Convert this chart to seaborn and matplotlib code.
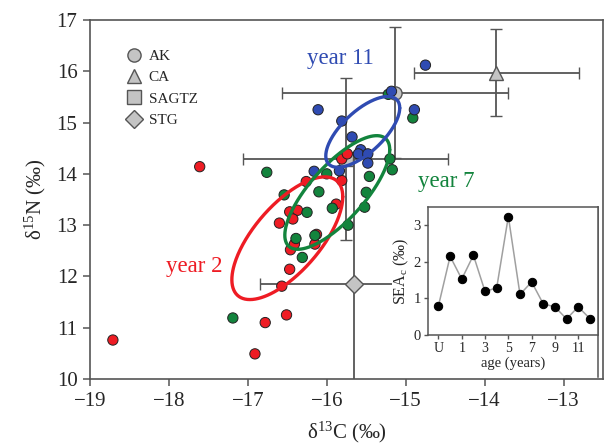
import numpy as np
import pandas as pd
import seaborn as sns
import matplotlib.pyplot as plt
from matplotlib.lines import Line2D

# isotope values per age group (d13C, d15N)
red_x = [-18.71, -17.61, -16.91, -16.78, -16.51, -16.57, -16.47, -16.46, -16.41, -16.60,
         -16.47, -16.37, -16.43, -16.26, -16.13, -16.15, -15.88, -15.81, -15.81, -15.74]
red_y = [10.76, 14.14, 10.49, 11.10, 11.25, 11.81, 12.14, 12.52, 12.63, 13.04,
         13.26, 13.29, 13.12, 13.85, 12.82, 12.63, 13.41, 13.87, 14.29, 14.39]
green_x = [-17.19, -16.76, -16.54, -16.10, -16.25, -15.93, -16.39, -16.15, -16.31, -15.73,
           -16.00, -15.50, -15.52, -15.46, -15.20, -15.17, -14.91, -15.22]
green_y = [11.19, 14.03, 13.59, 13.65, 13.25, 13.33, 12.74, 12.80, 12.37, 13.00,
           14.00, 13.64, 13.35, 13.95, 14.29, 14.08, 15.09, 15.55]
blue_x = [-14.75, -15.18, -14.89, -16.11, -15.81, -15.68, -15.57, -15.60, -15.48, -15.48,
          -15.84, -16.16]
blue_y = [16.12, 15.61, 15.25, 15.25, 15.03, 14.72, 14.47, 14.39, 14.39, 14.21,
          14.06, 14.05]

# standard ellipse parameters: centre and covariance (sxx, syy, sxy)
ell_red = [-16.50, 12.745, 0.4935, 1.4306, 0.5679]
ell_green = [-15.867, 13.637, 0.4416, 1.2272, 0.554]
ell_blue = [-15.544, 14.818, 0.2194, 0.4763, 0.2184]

# reference populations (mean +/- sd)
ref_names = ['AK', 'CA', 'SAGTZ', 'STG']
ref_markers = ['o', '^', 's', 'D']
ref_x = [-15.14, -13.85, -15.76, -15.66]
ref_xerr = [1.43, 1.04, 1.30, 1.19]
ref_y = [15.58, 15.97, 14.29, 11.86]
ref_yerr = [1.28, 0.85, 1.57, 2.45]

# inset: SEAc by age
age_labels = ['U', '0', '1', '2', '3', '4', '5', '6', '7', '8', '9', '10', '11', '12']
sea_values = [0.80, 2.15, 1.53, 2.18, 1.19, 1.29, 3.24, 1.11, 1.45, 0.85, 0.77, 0.44, 0.77, 0.45]

sns.set_style('ticks')
plt.rcParams['font.family'] = ['Liberation Serif', 'DejaVu Serif']
plt.rcParams.update({
    'mathtext.fontset': 'custom',
    'mathtext.rm': 'Liberation Serif',
    'mathtext.it': 'Liberation Serif:italic',
    'mathtext.bf': 'Liberation Serif:bold',
})

RED, GREEN, BLUE = '#ee1c24', '#13843d', '#2f4bb2'
EDGE = '#555555'

fig = plt.figure(figsize=(6.07, 4.48), dpi=100)
ax = fig.add_axes([90 / 607, 1 - 379 / 448, 513 / 607, 359 / 448])

# reference error bars
for name, m, x, xe, y, ye in zip(ref_names, ref_markers, ref_x, ref_xerr, ref_y, ref_yerr):
    ax.errorbar(x, y, xerr=xe, yerr=ye, fmt=m, color=EDGE, ecolor=EDGE, elinewidth=1.3,
                capsize=4, capthick=1.3, markersize=9.5, markerfacecolor='#c4c4c4',
                markeredgecolor=EDGE, markeredgewidth=1, zorder=1)

df = pd.concat([
    pd.DataFrame({'d13C': red_x, 'd15N': red_y, 'year': 'year 2'}),
    pd.DataFrame({'d13C': green_x, 'd15N': green_y, 'year': 'year 7'}),
    pd.DataFrame({'d13C': blue_x, 'd15N': blue_y, 'year': 'year 11'}),
])
sns.scatterplot(data=df, x='d13C', y='d15N', hue='year', ax=ax, legend=False,
                palette={'year 2': RED, 'year 7': GREEN, 'year 11': BLUE},
                s=55, edgecolor='#222222', linewidth=0.7, zorder=3)

t = np.linspace(0, 2 * np.pi, 300)
for ell, col in [(ell_red, RED), (ell_green, GREEN), (ell_blue, BLUE)]:
    cx, cy, sxx, syy, sxy = ell
    L = np.linalg.cholesky(np.array([[sxx, sxy], [sxy, syy]]))
    pts = L @ np.vstack([np.cos(t), np.sin(t)])
    ax.plot(cx + pts[0], cy + pts[1], color=col, lw=2.4, zorder=4)

ax.text(-15.83, 16.25, 'year 11', color=BLUE, fontsize=16.5, ha='center', va='center')
ax.text(-14.49, 13.86, 'year 7', color=GREEN, fontsize=16.5, ha='center', va='center')
ax.text(-17.68, 12.20, 'year 2', color=RED, fontsize=16.5, ha='center', va='center')

ax.set_xlim(-19, -12.5)
ax.set_ylim(10, 17)
ax.set_xticks(range(-19, -12))
ax.set_yticks(range(10, 18))
ax.tick_params(direction='out', length=5, width=1.1, color=EDGE, labelsize=15, pad=4)
for sp in ax.spines.values():
    sp.set_color(EDGE)
    sp.set_linewidth(1.2)
ax.set_xlabel(r'$\mathrm{δ}^{13}\mathrm{C}\ (\mathit{‰})$', fontsize=15, labelpad=7)
ax.set_ylabel(r'$\mathrm{δ}^{15}\mathrm{N}\ (\mathit{‰})$', fontsize=15, labelpad=6)

handles = [Line2D([], [], marker=m, ls='none', markersize=9.5, markerfacecolor='#c4c4c4',
                  markeredgecolor=EDGE, markeredgewidth=1) for m in ref_markers]
ax.legend(handles, ref_names, loc='upper left', bbox_to_anchor=(0.053, 0.94), frameon=False,
          fontsize=11, handletextpad=0.35, labelspacing=0.5, handlelength=1.2, borderpad=0)

# white backing behind the inset (hides the main lines under it)
box = fig.add_axes([392 / 607, 1 - 377 / 448, 206 / 607, 170 / 448])
box.set_xticks([])
box.set_yticks([])
for side, sp in box.spines.items():
    sp.set_visible(side == 'right')
    sp.set_color(EDGE)
    sp.set_linewidth(1.1)

ins = fig.add_axes([428 / 607, 1 - 335 / 448, 170 / 607, 128 / 448])
xpos = np.arange(len(age_labels))
sns.lineplot(x=xpos, y=sea_values, ax=ins, color='#a0a0a0', lw=1.1, marker='o',
             markersize=6, markerfacecolor='black', markeredgecolor='black')
ins.set_xlim(-0.9, 13.7)
ins.set_ylim(0, 3.5)
ins.set_xticks(xpos[::2])
ins.set_xticklabels(age_labels[::2])
ins.set_yticks([0, 1, 2, 3])
ins.tick_params(direction='out', length=3, width=1, color=EDGE, labelsize=10.5, pad=2)
ins.tick_params(axis='x', labelsize=10)
for sp in ins.spines.values():
    sp.set_color(EDGE)
    sp.set_linewidth(1.1)
ins.set_xlabel('age (years)', fontsize=10.5, labelpad=1)
ins.set_ylabel(r'$\mathrm{SEA}_\mathrm{c}\ (\mathit{‰})$', fontsize=11.5, labelpad=2)

fig.savefig('out.png', dpi=100)
